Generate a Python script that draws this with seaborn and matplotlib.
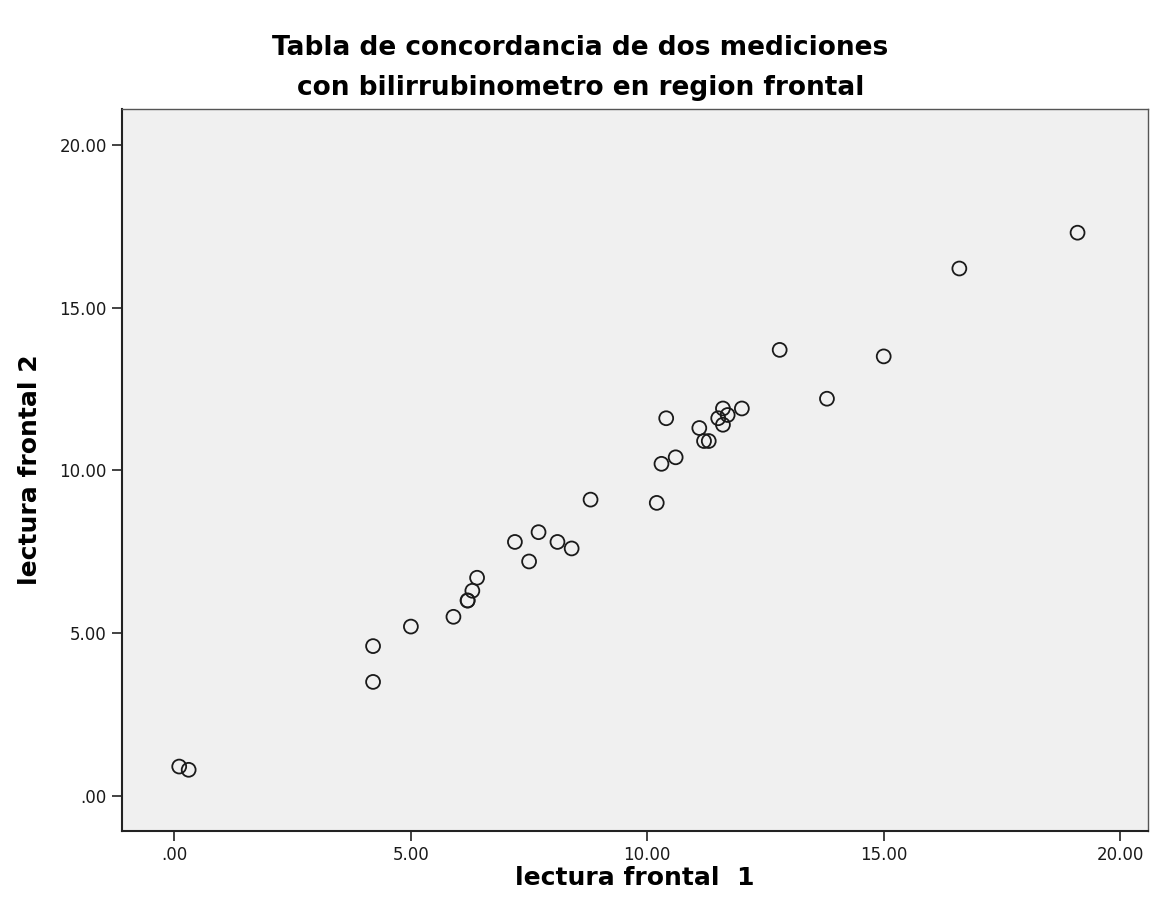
import matplotlib
matplotlib.use("Agg")
import matplotlib.pyplot as plt
import seaborn as sns
import pandas as pd
from matplotlib.ticker import FuncFormatter, MultipleLocator

# values
lectura_1 = [0.1, 0.3, 4.2, 4.2, 5.0, 5.9, 6.2, 6.2, 6.3, 6.4, 7.2, 7.5, 7.7, 8.1, 8.4, 8.8,
             10.2, 10.3, 10.4, 10.6, 11.1, 11.2, 11.3, 11.5, 11.6, 11.6, 11.7, 12.0,
             12.8, 13.8, 15.0, 16.6, 19.1]
lectura_2 = [0.9, 0.8, 4.6, 3.5, 5.2, 5.5, 6.0, 6.0, 6.3, 6.7, 7.8, 7.2, 8.1, 7.8, 7.6, 9.1,
             9.0, 10.2, 11.6, 10.4, 11.3, 10.9, 10.9, 11.6, 11.9, 11.4, 11.7, 11.9,
             13.7, 12.2, 13.5, 16.2, 17.3]
title_lines = ["Tabla de concordancia de dos mediciones", "con bilirrubinometro en region frontal"]

df = pd.DataFrame({"x": lectura_1, "y": lectura_2})

sns.set_style("white")
plt.rcParams["font.family"] = ["DejaVu Sans"]
plt.rcParams["text.color"] = "black"
plt.rcParams["axes.labelcolor"] = "black"

W, H = 1161, 919
fig = plt.figure(figsize=(W / 100, H / 100), dpi=100)
ax = fig.add_axes([122 / W, 1 - 831 / H, (1148 - 122) / W, (831 - 109) / H])
ax.set_facecolor("#f0f0f0")

sns.scatterplot(data=df, x="x", y="y", ax=ax, marker="o", s=100,
                facecolor="none", edgecolor="#1a1a1a", linewidth=1.3)

ax.set_xlim(-1.11, 20.59)
ax.set_ylim(-1.08, 21.1)
ax.xaxis.set_major_locator(MultipleLocator(5))
ax.yaxis.set_major_locator(MultipleLocator(5))


def fmt(v, pos):
    s = f"{v:.2f}"
    return s[1:] if s.startswith("0") else s


ax.xaxis.set_major_formatter(FuncFormatter(fmt))
ax.yaxis.set_major_formatter(FuncFormatter(fmt))
ax.tick_params(axis="both", direction="out", length=7, width=1.2, color="#222222",
               labelsize=12, labelcolor="#1a1a1a", bottom=True, left=True, pad=4)

for side in ["left", "bottom"]:
    ax.spines[side].set_color("#222222")
    ax.spines[side].set_linewidth(1.5)
for side in ["top", "right"]:
    ax.spines[side].set_color("#555555")
    ax.spines[side].set_linewidth(1.0)

ax.set_xlabel("lectura frontal  1", fontsize=18, fontweight="bold")
ax.set_ylabel("lectura frontal 2", fontsize=18, fontweight="bold")
ax.xaxis.set_label_coords(0.5, -(878 - 831) / (831 - 109))
ax.yaxis.set_label_coords(-(122 - 30) / (1148 - 122), 0.5)
ax.xaxis.label.set_va("center")
ax.yaxis.label.set_va("center")

fig.text(0.5, 1 - 48 / H, title_lines[0], ha="center", va="center",
         fontsize=19, fontweight="bold")
fig.text(0.5, 1 - 88 / H, title_lines[1], ha="center", va="center",
         fontsize=19, fontweight="bold")

fig.savefig("out.png", dpi=100)
